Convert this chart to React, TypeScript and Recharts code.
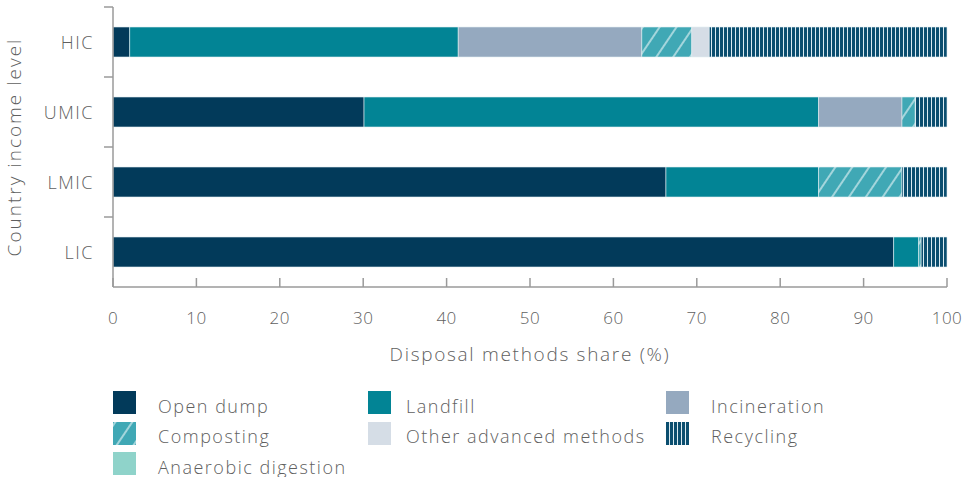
import { BarChart, Bar, XAxis, YAxis, Label } from 'recharts';

// income levels, top to bottom
const levels = ['HIC', 'UMIC', 'LMIC', 'LIC'];

// disposal shares (%) per level, same order as levels
const openDump = [2, 30.1, 66.3, 93.6];
const landfill = [39.4, 54.5, 18.3, 3];
const incineration = [22, 10, 0, 0];
const composting = [6, 1.6, 10, 0.3];
const otherAdvanced = [2.1, 0, 0, 0];
const anaerobic = [0, 0, 0, 0];
const recycling = [28.5, 3.8, 5.4, 3.1];

const xTicks = [0, 10, 20, 30, 40, 50, 60, 70, 80, 90, 100];

const data = levels.map((level, i) => ({
  level,
  openDump: openDump[i],
  landfill: landfill[i],
  incineration: incineration[i],
  composting: composting[i],
  otherAdvanced: otherAdvanced[i],
  anaerobic: anaerobic[i],
  recycling: recycling[i],
}));

const FONT = '"Open Sans", sans-serif';
const WEIGHT = 300;
const TEXT = '#5f5f5f';
const AXIS = '#9a9a9a';

const series = [
  { key: 'openDump', name: 'Open dump', fill: '#023a5a' },
  { key: 'landfill', name: 'Landfill', fill: '#028495' },
  { key: 'incineration', name: 'Incineration', fill: '#95a9bf' },
  { key: 'composting', name: 'Composting', fill: 'url(#compostHatch)' },
  { key: 'otherAdvanced', name: 'Other advanced methods', fill: '#d5dde6' },
  { key: 'anaerobic', name: 'Anaerobic digestion', fill: '#8fd3ca' },
  { key: 'recycling', name: 'Recycling', fill: 'url(#recycleStripes)' },
];

const legendRows = [
  ['openDump', 'landfill', 'incineration'],
  ['composting', 'otherAdvanced', 'recycling'],
  ['anaerobic'],
];
const legendCols = [
  { left: 113, text: 45 },
  { left: 368, text: 38 },
  { left: 666, text: 45 },
];

function YTick(props: any) {
  const { x, y, payload } = props;
  const axisX = x + 19;
  return (
    <g>
      <line x1={axisX - 9} x2={axisX} y1={y - 35} y2={y - 35} stroke={AXIS} strokeWidth={1.5} />
      <text
        x={x}
        y={y}
        textAnchor="end"
        dominantBaseline="central"
        fill={TEXT}
        fontSize={18}
        fontWeight={WEIGHT}
        letterSpacing={1.5}
        fontFamily={FONT}
      >
        {payload.value}
      </text>
    </g>
  );
}

function Legend() {
  return (
    <div style={{ position: 'absolute', left: 0, top: 0, width: 963, height: 477, pointerEvents: 'none', overflow: 'hidden' }}>
      {legendRows.map((row, r) =>
        row.map((key, c) => {
          const s = series.find((d) => d.key === key)!;
          const col = legendCols[c];
          const top = 391 + r * 30.5;
          return (
            <div key={key}>
              <svg style={{ position: 'absolute', left: col.left, top }} width={23} height={23}>
                <rect x={0} y={0} width={23} height={23} fill={s.fill} />
              </svg>
              <span
                style={{
                  position: 'absolute',
                  left: col.left + col.text,
                  top: top + 1.5,
                  fontFamily: FONT,
                  fontWeight: WEIGHT,
                  fontSize: 18,
                  letterSpacing: 1.5,
                  color: TEXT,
                  lineHeight: '27px',
                  whiteSpace: 'nowrap',
                }}
              >
                {s.name}
              </span>
            </div>
          );
        })
      )}
    </div>
  );
}

export default function App() {
  return (
    <div style={{ position: 'absolute', left: 0, top: 0, width: 963, height: 477, background: '#fff' }}>
      <BarChart
        width={963}
        height={477}
        data={data}
        layout="vertical"
        margin={{ top: 7, right: 16, bottom: 130, left: 0 }}
        barSize={30}
      >
        <defs>
          <pattern id="compostHatch" patternUnits="userSpaceOnUse" width={14} height={14} patternTransform="rotate(34)">
            <rect width={14} height={14} fill="#40a8b5" />
            <line x1={2} y1={0} x2={2} y2={14} stroke="#ffffff" strokeOpacity={0.75} strokeWidth={1.4} />
          </pattern>
          <pattern id="recycleStripes" patternUnits="userSpaceOnUse" width={4} height={10}>
            <rect width={4} height={10} fill="#0b4e6f" />
            <rect x={3} width={1} height={10} fill="#dcebf1" />
          </pattern>
        </defs>
        <XAxis
          type="number"
          domain={[0, 100]}
          ticks={xTicks}
          interval={0}
          stroke={AXIS}
          strokeWidth={1.5}
          tickSize={-9}
          tickMargin={34}
          height={60}
          tick={{ fill: TEXT, fontSize: 17, fontFamily: FONT, fontWeight: WEIGHT, letterSpacing: 0.5 }}
        >
          <Label
            content={(p: any) => {
              const vb = p.viewBox;
              return (
                <text
                  x={vb.x + vb.width / 2}
                  y={vb.y + 67}
                  textAnchor="middle"
                  dominantBaseline="central"
                  fill={TEXT}
                  fontSize={19}
                  fontWeight={WEIGHT}
                  letterSpacing={1.7}
                  fontFamily={FONT}
                >
                  Disposal methods share (%)
                </text>
              );
            }}
          />
        </XAxis>
        <YAxis
          type="category"
          dataKey="level"
          width={113}
          stroke={AXIS}
          strokeWidth={1.5}
          tickLine={false}
          tickSize={0}
          tickMargin={19}
          tick={<YTick />}
        >
          <Label
            content={(p: any) => {
              const vb = p.viewBox;
              const cy = vb.y + vb.height / 2;
              return (
                <text
                  x={14}
                  y={cy}
                  transform={`rotate(-90 14 ${cy})`}
                  textAnchor="middle"
                  dominantBaseline="central"
                  fill={TEXT}
                  fontSize={19}
                  fontWeight={WEIGHT}
                  letterSpacing={2}
                  fontFamily={FONT}
                >
                  Country income level
                </text>
              );
            }}
          />
        </YAxis>
        {series.map((s) => (
          <Bar
            key={s.key}
            dataKey={s.key}
            name={s.name}
            stackId="share"
            fill={s.fill}
            stroke="#e3eef2"
            strokeWidth={0.6}
            isAnimationActive={false}
          />
        ))}
      </BarChart>
      <Legend />
    </div>
  );
}
